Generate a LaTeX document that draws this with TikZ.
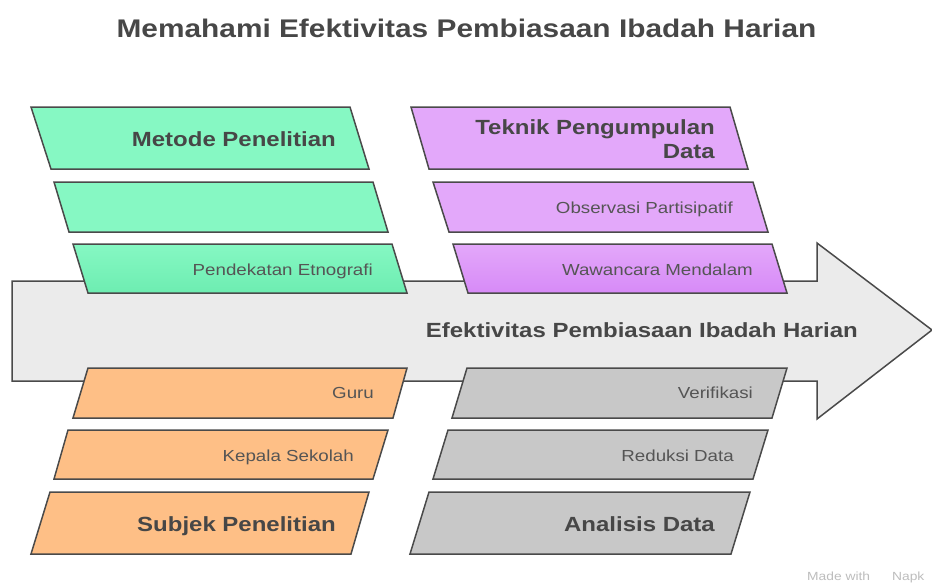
\documentclass[tikz,border=0pt]{standalone}
\usepackage{fontspec}
\setmainfont{Liberation Sans}[FakeStretch=1.17]
\definecolor{outl}{HTML}{4A4A4A}
\definecolor{txtd}{HTML}{474747}
\definecolor{txtl}{HTML}{555555}
\definecolor{grn}{HTML}{86F8C3}
\definecolor{grnd}{HTML}{6DEDB1}
\definecolor{pur}{HTML}{E3A8FA}
\definecolor{purd}{HTML}{D78AF7}
\definecolor{org}{HTML}{FEBF86}
\definecolor{gry}{HTML}{C8C8C8}
\definecolor{arr}{HTML}{EBEBEB}
\definecolor{wm}{HTML}{BDBDBD}
\tikzset{
  x=1pt, y=-1pt,
  shp/.style={draw=outl, line width=1.5pt, line join=miter},
  smalltxt/.style={anchor=base east, inner sep=0pt, text=txtl, font=\fontsize{16}{19}\selectfont},
  headtxt/.style={anchor=base east, inner sep=0pt, text=txtd, font=\fontsize{20.5}{24}\selectfont\bfseries},
}
\begin{document}
\begin{tikzpicture}
\useasboundingbox (0,0) rectangle (932,584);
\fill[white] (0,0) rectangle (932,584);
% title
\node[anchor=base, inner sep=0pt, text=txtd, font=\fontsize{25.5}{30}\selectfont\bfseries] (title) at (466.5,37) {Memahami Efektivitas Pembiasaan Ibadah Harian};
% big arrow
\draw[shp, fill=arr] (12,281) -- (817,281) -- (817,243) -- (932,330) -- (817,419) -- (817,381) -- (12,381) -- cycle;
\node[headtxt] (main) at (858,337) {Efektivitas Pembiasaan Ibadah Harian};
% green
\draw[shp, fill=grn] (31,107) -- (350,107) -- (369,169) -- (51,169) -- cycle;
\draw[shp, fill=grn] (54,182) -- (373,182) -- (388,232) -- (69,232) -- cycle;
\draw[shp, top color=grn, bottom color=grnd] (73,244) -- (392,244) -- (407,293) -- (88,293) -- cycle;
\node[headtxt] (metode) at (336,146) {Metode Penelitian};
\node[smalltxt] (etno) at (373,275) {Pendekatan Etnografi};
% purple
\draw[shp, fill=pur] (411,107) -- (730,107) -- (748,169) -- (429,169) -- cycle;
\draw[shp, fill=pur] (433,182) -- (753,182) -- (768,232) -- (449,232) -- cycle;
\draw[shp, top color=pur, bottom color=purd] (453,244) -- (772,244) -- (787,293) -- (468,293) -- cycle;
\node[headtxt] (teknik1) at (715,134) {Teknik Pengumpulan};
\node[headtxt] (teknik2) at (715,158) {Data};
\node[smalltxt] (obs) at (733,213) {Observasi Partisipatif};
\node[smalltxt] (waw) at (753,275) {Wawancara Mendalam};
% orange
\draw[shp, fill=org] (88,368) -- (407,368) -- (393,418) -- (73,418) -- cycle;
\draw[shp, fill=org] (68,430) -- (388,430) -- (373,479) -- (54,479) -- cycle;
\draw[shp, fill=org] (50,492) -- (369,492) -- (351,554) -- (31,554) -- cycle;
\node[smalltxt] (guru) at (374,398) {Guru};
\node[smalltxt] (kepsek) at (354,461) {Kepala Sekolah};
\node[headtxt] (subjek) at (336,531) {Subjek Penelitian};
% gray
\draw[shp, fill=gry] (467,368) -- (787,368) -- (772,418) -- (452,418) -- cycle;
\draw[shp, fill=gry] (448,430) -- (768,430) -- (753,479) -- (433,479) -- cycle;
\draw[shp, fill=gry] (429,492) -- (750,492) -- (731,554) -- (410,554) -- cycle;
\node[smalltxt] (verif) at (753,398) {Verifikasi};
\node[smalltxt] (reduksi) at (734,461) {Reduksi Data};
\node[headtxt] (analisis) at (715,531) {Analisis Data};
% watermark
\node[anchor=base west, inner sep=0pt, text=wm, font=\fontsize{11.8}{14}\selectfont] (made) at (807,580) {Made with\hspace{22pt}Napk};
\end{tikzpicture}
\end{document}
